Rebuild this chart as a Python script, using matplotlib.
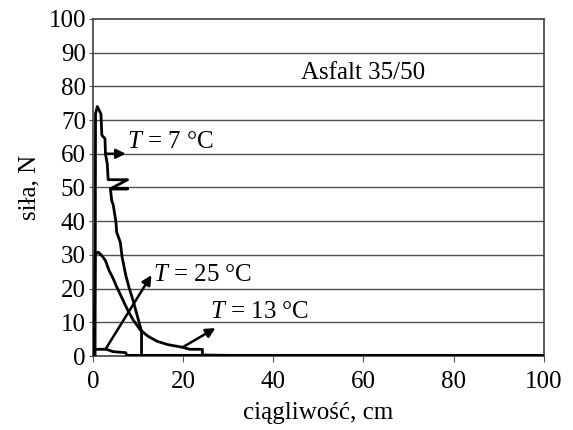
import matplotlib.pyplot as plt

plt.rcParams["font.family"] = "Liberation Serif"
plt.rcParams["mathtext.fontset"] = "custom"
plt.rcParams["mathtext.rm"] = "Liberation Serif"
plt.rcParams["mathtext.it"] = "Liberation Serif:italic"

# T = 7 °C (with the small Z-shaped glitch near 50 N)
x7 = [0.5, 0.6, 1.0, 1.8, 2.0, 2.7, 2.8, 3.2, 3.4, 3.9, 7.7, 3.9, 7.7, 3.9, 4.2, 4.5,
      5.1, 5.3, 6.1, 6.5, 7.3, 8.1, 8.9, 9.7, 10.4, 10.8, 10.8]
y7 = [0, 72, 74, 71.8, 65.5, 64.5, 60, 57, 52.3, 52.3, 52.3, 49.6, 49.6, 49.6, 46, 45,
      40, 36.7, 33.7, 29.3, 24, 20, 16.6, 12.7, 9.3, 7.3, 1]

# T = 25 °C
x25 = [0.3, 0.5, 1.2, 2.0, 2.8, 3.6, 4.5, 5.3, 6.5, 7.7, 8.9, 10.5, 12.2, 14.2,
       16.6, 19.9, 21.5, 24.3, 24.3, 30, 100]
y25 = [0, 30.2, 30.8, 29.8, 28.3, 25.4, 23, 20.5, 17.1, 13.7, 10.8, 7.8, 5.9, 4.4,
       3.4, 2.6, 2.0, 2.0, 0.3, 0.2, 0.2]

# T = 13 °C
x13 = [0, 0.3, 3.0, 4.5, 7.3, 7.5, 30]
y13 = [1, 2, 2, 1.3, 1.0, 0.2, 0.2]

labels = ["$T$ = 7 °C", "$T$ = 25 °C", "$T$ = 13 °C"]
arrow_from = [(2.7, 60), (2.8, 2), (19.9, 2.6)]
arrow_to = [(7.3, 60), (13.0, 24), (27.2, 8.3)]
text_pos = [(7.6, 63.5), (13.4, 24), (25.9, 13)]

fig = plt.figure(figsize=(5.73, 4.30), dpi=100)
ax = fig.add_axes([0.162, 0.172, 0.787, 0.784])

for yv in range(10, 100, 10):
    ax.axhline(yv, color="#505050", linewidth=1.0, zorder=1)

ax.plot(x7, y7, color="black", linewidth=2, zorder=3)
ax.plot(x25, y25, color="black", linewidth=2, zorder=3)
ax.plot(x13, y13, color="black", linewidth=2, zorder=3)

for lab, a0, a1, tp in zip(labels, arrow_from, arrow_to, text_pos):
    ax.annotate("", xy=a1, xytext=a0,
                arrowprops=dict(arrowstyle="-|>", color="black", lw=1.8,
                                mutation_scale=14, shrinkA=0, shrinkB=0))
    ax.text(tp[0], tp[1], lab, fontsize=18, ha="left", va="center")

ax.text(60, 84, "Asfalt 35/50", fontsize=18, ha="center", va="center")

ax.set_xlim(0, 100)
ax.set_ylim(0, 100)
ax.set_xticks(range(0, 101, 20))
ax.set_yticks(range(0, 101, 10))
ax.tick_params(labelsize=18, direction="out", color="#505050")
ax.tick_params(axis="x", length=4, pad=7)
ax.tick_params(axis="y", length=3, pad=2)
ax.set_xlabel("ciągliwość, cm", fontsize=18, labelpad=6)
ax.set_ylabel("siła, N", fontsize=18, labelpad=6)
for sp in ax.spines.values():
    sp.set_linewidth(1.2)
    sp.set_color("#404040")

plt.savefig("out.png", dpi=100)
plt.close()
